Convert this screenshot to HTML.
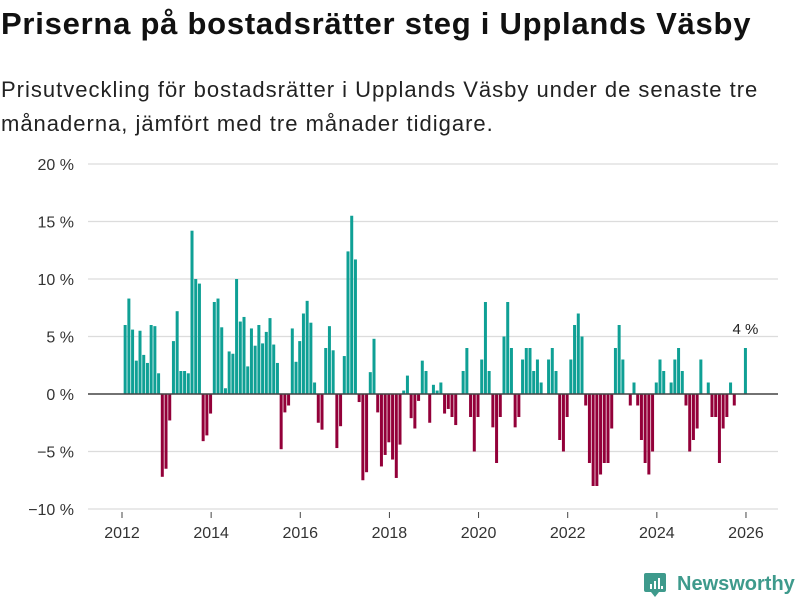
<!DOCTYPE html>
<html><head><meta charset="utf-8">
<style>
body{margin:0;background:#fff;width:800px;height:600px;overflow:hidden;font-family:"Liberation Sans",sans-serif;}
#title{position:absolute;left:1px;top:6px;font-size:31px;letter-spacing:0.75px;font-weight:bold;color:#111;margin:0;white-space:nowrap;}
#subtitle{position:absolute;left:1px;top:73px;font-size:22px;letter-spacing:1px;line-height:34px;color:#222;margin:0;width:795px;}
svg{position:absolute;left:0;top:0;}
</style></head><body>
<h1 id="title">Priserna på bostadsrätter steg i Upplands Väsby</h1>
<p id="subtitle">Prisutveckling för bostadsrätter i Upplands Väsby under de senaste tre månaderna, jämfört med tre månader tidigare.</p>
<svg id="chart" width="800" height="600">
<g id="grid"></g>
<g id="bars"></g>
<g id="axes"></g>
<g>
<path d="M646 573 h18 a2 2 0 0 1 2 2 v15 a2 2 0 0 1 -2 2 h-5 l-4 5 l-4 -5 h-5 a2 2 0 0 1 -2 -2 v-15 a2 2 0 0 1 2 -2z" fill="#3e9a8c"/>
<rect x="650" y="584" width="2" height="5" fill="#fff"/><rect x="654" y="581" width="2" height="8" fill="#fff"/><rect x="658" y="578" width="2" height="11" fill="#fff"/><rect x="661" y="586" width="2" height="3" fill="#fff"/>
<text x="677" y="590" font-size="20" font-weight="bold" fill="#3e9a8c">Newsworthy</text>
</g>
</svg>
<script>
const yTicks = [-10, -5, 0, 5, 10, 15, 20];
const yTickLabels = ["−10 %", "−5 %", "0 %", "5 %", "10 %", "15 %", "20 %"];
const xTicks = [2012, 2014, 2016, 2018, 2020, 2022, 2024, 2026];
const startYear = 2012;
const values = [
6.0,8.3,5.6,2.9,5.5,3.4,2.7,6.0,5.9,1.8,
-7.2,-6.5,-2.3,4.6,7.2,2.0,2.0,1.8,14.2,10.0,
9.6,-4.1,-3.6,-1.7,8.0,8.3,5.8,0.5,3.7,3.5,
10.0,6.3,6.7,2.4,5.7,4.2,6.0,4.4,5.4,6.6,
4.3,2.7,-4.8,-1.6,-1.0,5.7,2.8,4.6,7.0,8.1,
6.2,1.0,-2.5,-3.1,4.0,5.9,3.8,-4.7,-2.8,3.3,
12.4,15.5,11.7,-0.7,-7.5,-6.8,1.9,4.8,-1.6,-6.3,
-5.3,-4.2,-5.7,-7.3,-4.4,0.3,1.6,-2.1,-3.0,-0.6,
2.9,2.0,-2.5,0.8,0.3,1.0,-1.7,-1.3,-2.0,-2.7,
0,2,4,-2,-5,-2,3,8,2,-2.9,
-6,-2,5,8,4,-2.9,-2,3,4,4,
2,3,1,0,3,4,2,-4,-5,-2,
3,6,7,5,-1,-6,-8,-8,-7,-6,
-6,-3,4,6,3,0,-1,1,-1,-4,
-6,-7,-5,1,3,2,0,1,3,4,
2,-1,-5,-4,-3,3,0,1,-2,-2,
-6,-3,-2,1,-1,0,0,4];
const lastLabel = "4 %";

const NS="http://www.w3.org/2000/svg";
const yScale = v => 394 - v*11.5;
const xScale = t => 122 + (t-2012)*44.57;
function mk(tag, attrs, parent){const e=document.createElementNS(NS,tag);for(const k in attrs)e.setAttribute(k,attrs[k]);parent.appendChild(e);return e;}
const grid=document.getElementById('grid'), bars=document.getElementById('bars'), axes=document.getElementById('axes');
yTicks.forEach((v,i)=>{
  if(v!==0){const l=mk('line',{x1:88,x2:778,y1:yScale(v),y2:yScale(v),stroke:'#dcdcdc','stroke-width':1.3},grid);
  
  }
  const t=mk('text',{x:74,y:yScale(v)+6,'text-anchor':'end','font-size':16,fill:'#333'},axes);
  t.textContent=yTickLabels[i];
  
  
});
values.forEach((v,i)=>{
  if(v===0)return;
  const xc=xScale(startYear+(i+0.85)/12);
  const y0=yScale(0), y1=yScale(v);
  const r=mk('rect',{x:xc-1.5,width:3,y:Math.min(y0,y1),height:Math.abs(y1-y0),fill:v>0?'#0fa095':'#930039'},bars);
  
  
});
const base=mk('line',{x1:88,x2:778,y1:yScale(0),y2:yScale(0),stroke:'#444','stroke-width':1.5},axes);


xTicks.forEach(yr=>{
  const x=xScale(yr);
  const tk=mk('line',{x1:x,x2:x,y1:512,y2:518,stroke:'#444','stroke-width':1},axes);
  
  
  const t=mk('text',{x:x,y:538,'text-anchor':'middle','font-size':16,fill:'#333'},axes);
  t.textContent=String(yr);
  
  
});
const lastI=values.length-1;
const lbl=mk('text',{x:xScale(startYear+(lastI+0.85)/12),y:yScale(values[lastI])-14,'text-anchor':'middle','font-size':15,fill:'#222'},axes);
lbl.textContent=lastLabel;


</script>
</body></html>
